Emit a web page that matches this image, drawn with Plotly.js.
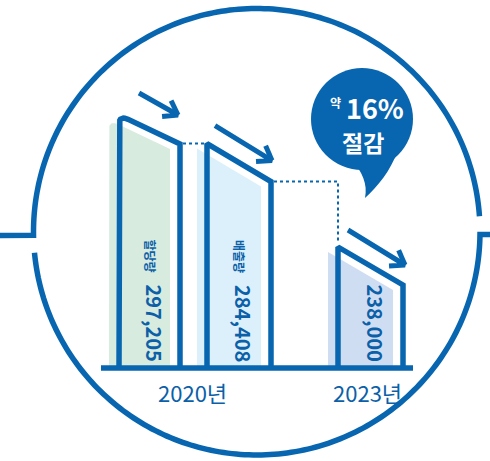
<!DOCTYPE html>
<html>
<head>
<meta charset="utf-8">
<script src="https://cdn.plot.ly/plotly-3.0.1.min.js"></script>
<style>
  html, body { margin: 0; padding: 0; background: #ffffff; }
  #chart { width: 490px; height: 461px; }
</style>
</head>
<body>
<div id="chart"></div>
<script>
// ---------------- DATA ----------------
const values     = [297205, 284408, 238000];        // 할당량 2020, 배출량 2020, 2023
const barLabels  = ['할당량', '배출량', ''];
const barYears   = ['2020년', '2020년', '2023년'];
const yearLabels = ['2020년', '2023년'];
const bubblePrefix = '약';
const bubbleWord   = '절감';

// ---------------- LAYOUT / STYLE CONSTANTS ----------------
const W = 490, H = 461;
const BLUE = '#0866b0';
const TEXT_BLUE = '#0b60a8';
const SHADOW_FILL = ['#d7ebdf', '#dbf0fb', '#cfddf2'];
const BAR_L = [119, 207, 338];
const BAR_R = [180, 271, 403];
const SLANT = [29, 38, 38];
const RADIUS = [10, 0, 0];
const SHADOW_DX = -10, SHADOW_DY = 5;
const ARROW = [[20, -22, 59, 0], [8, -18, 65, 17], [10, -17, 67, 18]];
const BASE_PX = 368;
const Y_LO = 142000, Y_HI = 348800;          // value axis range
const KV = (Y_HI - Y_LO) / H;                  // value units per pixel
const BASE = Y_HI - BASE_PX * KV;              // value at the baseline

function yv(v, dyPx) { return v - dyPx * KV; }  // offset a value by pixels (down = +)

const traces = [];
const fmt = n => n.toLocaleString('en-US');

function barOutline(i, dx, dy) {
  const L = BAR_L[i] + dx, R = BAR_R[i] + dx, v = values[i];
  const s = SLANT[i], r = RADIUS[i], m = s / (BAR_R[i] - BAR_L[i]);
  const xs = [L], ys = [BASE];
  if (r > 0) {
    const n = Math.sqrt(1 + m * m);
    const p0 = [0, r], p1 = [0, 0], p2 = [r / n, m * r / n];
    for (let k = 0; k <= 10; k++) {
      const t = k / 10;
      const px = (1 - t) * (1 - t) * p0[0] + 2 * (1 - t) * t * p1[0] + t * t * p2[0];
      const py = (1 - t) * (1 - t) * p0[1] + 2 * (1 - t) * t * p1[1] + t * t * p2[1];
      xs.push(L + px); ys.push(yv(v, py + dy));
    }
  } else {
    xs.push(L); ys.push(yv(v, dy));
  }
  xs.push(R); ys.push(yv(v, s + dy));
  xs.push(R); ys.push(BASE);
  return { xs, ys };
}

// shadows
values.forEach((v, i) => {
  const o = barOutline(i, SHADOW_DX, SHADOW_DY);
  traces.push({
    x: o.xs, y: o.ys, yaxis: 'y2', type: 'scatter', mode: 'lines',
    fill: 'toself', fillcolor: SHADOW_FILL[i], line: { width: 0, color: SHADOW_FILL[i] },
    hoverinfo: 'skip', name: barLabels[i] || barYears[i]
  });
});

// dotted connectors
traces.push({
  x: [BAR_R[0] + 3, BAR_L[1] - 3], y: [values[1], values[1]], yaxis: 'y2',
  type: 'scatter', mode: 'lines', line: { color: BLUE, width: 2, dash: 'dot' }, hoverinfo: 'skip'
});
traces.push({
  x: [BAR_R[1] + 3, BAR_L[2], BAR_L[2]],
  y: [yv(values[1], SLANT[1]), yv(values[1], SLANT[1]), yv(values[2], -4)], yaxis: 'y2',
  type: 'scatter', mode: 'lines', line: { color: BLUE, width: 2, dash: 'dot' }, hoverinfo: 'skip'
});

// bar outlines
values.forEach((v, i) => {
  const o = barOutline(i, 0, 0);
  traces.push({
    x: o.xs, y: o.ys, yaxis: 'y2', type: 'scatter', mode: 'lines',
    line: { color: BLUE, width: 5.5 }, hoverinfo: 'skip', name: barYears[i]
  });
});

// arrows above bars
values.forEach((v, i) => {
  const a = ARROW[i], L = BAR_L[i];
  const th = Math.atan2(a[3] - a[1], a[2] - a[0]);
  const ph = th + Math.PI, bl = 16, sp = 35 * Math.PI / 180;
  const b1 = [a[2] + bl * Math.cos(ph - sp), a[3] + bl * Math.sin(ph - sp)];
  const b2 = [a[2] + bl * Math.cos(ph + sp), a[3] + bl * Math.sin(ph + sp)];
  traces.push({
    x: [L + a[0], L + a[2], L + b1[0], null, L + b2[0], L + a[2]],
    y: [yv(v, a[1]), yv(v, a[3]), yv(v, b1[1]), null, yv(v, b2[1]), yv(v, a[3])],
    yaxis: 'y2', type: 'scatter', mode: 'lines', connectgaps: false,
    line: { color: BLUE, width: 5 }, hoverinfo: 'skip'
  });
});

// baseline
traces.push({
  x: [BAR_L[0] - 18, BAR_R[2] + 10], y: [BASE, BASE], yaxis: 'y2',
  type: 'scatter', mode: 'lines', line: { color: BLUE, width: 5.5 }, hoverinfo: 'skip'
});

// ---------------- decorative frame ----------------
const CX = 256.75, CY = 231.75, CR = 223.25;
function arc(a0, a1, n) {
  const pts = [];
  for (let k = 0; k <= n; k++) {
    const a = (a0 + (a1 - a0) * k / n) * Math.PI / 180;
    pts.push((CX + CR * Math.cos(a)).toFixed(2) + ',' + (CY + CR * Math.sin(a)).toFixed(2));
  }
  return pts;
}
const upper = arc(-180.9, -4.0, 160);
const lower = arc(174.6, 0.7, 160);
const upperPath = 'M0,235.5 L' + upper.join(' L');
const lowerPath = 'M' + lower.join(' L') + ' L490,234.5';

const shapes = [
  { type: 'path', xref: 'x', yref: 'y', path: upperPath, line: { color: BLUE, width: 5.5 }, layer: 'below' },
  { type: 'path', xref: 'x', yref: 'y', path: lowerPath, line: { color: BLUE, width: 5.5 }, layer: 'below' },
  // speech bubble
  { type: 'circle', xref: 'x', yref: 'y', x0: 311, x1: 413, y0: 68, y1: 170,
    fillcolor: BLUE, line: { width: 0 }, layer: 'above' },
  { type: 'path', xref: 'x', yref: 'y',
    path: 'M352,160 C362,172 368,184 365,198 C378,186 390,172 398,150 Z',
    fillcolor: BLUE, line: { width: 0 }, layer: 'above' }
];

// ---------------- texts ----------------
const pct = Math.round((values[1] - values[2]) / values[1] * 100);
const annotations = [];
values.forEach((v, i) => {
  const c = (BAR_L[i] + BAR_R[i]) / 2;
  annotations.push({
    xref: 'x', yref: 'y', x: c + 5, y: 323, text: '<b>' + fmt(v) + '</b>', showarrow: false, textangle: 90,
    xanchor: 'center', yanchor: 'middle',
    font: { family: '"Noto Sans CJK KR", sans-serif', size: 20, color: TEXT_BLUE }
  });
  if (barLabels[i]) {
    annotations.push({
      xref: 'x', yref: 'y', x: c + 1, y: 256, text: '<b>' + barLabels[i] + '</b>', showarrow: false, textangle: 90,
      xanchor: 'center', yanchor: 'middle',
      font: { family: '"Noto Sans CJK KR", sans-serif', size: 12, color: TEXT_BLUE }
    });
  }
});
yearLabels.forEach(lbl => {
  const idx = barYears.map((y, i) => y === lbl ? i : -1).filter(i => i >= 0);
  const left = Math.min(...idx.map(i => BAR_L[i])) + SHADOW_DX;
  const right = Math.max(...idx.map(i => BAR_R[i]));
  annotations.push({
    xref: 'x', yref: 'y', x: (left + right) / 2 + 2, y: 392, text: lbl, showarrow: false,
    xanchor: 'center', yanchor: 'middle',
    font: { family: '"Noto Sans CJK KR", sans-serif', size: 22, color: TEXT_BLUE }
  });
});
annotations.push({
  xref: 'x', yref: 'y', x: 335, y: 102, text: '<b>' + bubblePrefix + '</b>', showarrow: false,
  xanchor: 'center', yanchor: 'middle',
  font: { family: '"Noto Sans CJK KR", sans-serif', size: 12, color: '#ffffff' }
});
annotations.push({
  xref: 'x', yref: 'y', x: 375, y: 107, text: '<b>' + pct + '%</b>', showarrow: false,
  xanchor: 'center', yanchor: 'middle',
  font: { family: '"Noto Sans CJK KR", sans-serif', size: 27, color: '#ffffff' }
});
annotations.push({
  xref: 'x', yref: 'y', x: 363, y: 142, text: '<b>' + bubbleWord + '</b>', showarrow: false,
  xanchor: 'center', yanchor: 'middle',
  font: { family: '"Noto Sans CJK KR", sans-serif', size: 23, color: '#ffffff' }
});

const layout = {
  width: W, height: H,
  margin: { l: 0, r: 0, t: 0, b: 0, pad: 0 },
  paper_bgcolor: '#ffffff', plot_bgcolor: '#ffffff',
  showlegend: false,
  xaxis: { range: [0, W], visible: false, fixedrange: true },
  yaxis: { range: [H, 0], visible: false, fixedrange: true },
  yaxis2: { range: [Y_LO, Y_HI], overlaying: 'y', visible: false, fixedrange: true },
  shapes: shapes,
  annotations: annotations,
  font: { family: '"Noto Sans CJK KR", sans-serif' }
};

Plotly.newPlot('chart', traces, layout, { displayModeBar: false, staticPlot: true });
</script>
</body>
</html>
